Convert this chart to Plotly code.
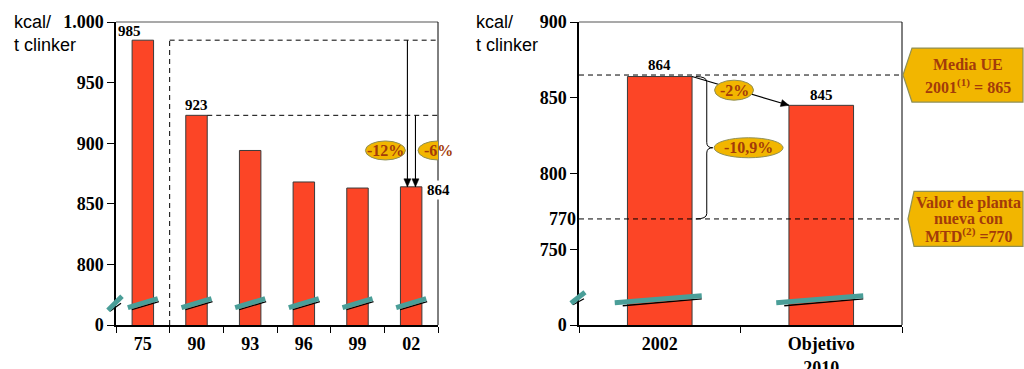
import math
import plotly.graph_objects as go

# Consumo térmico histórico (kcal / t clinker)
years = ["75", "90", "93", "96", "99", "02"]
consumo = [985, 923, 894, 868, 863, 864]

# Situación actual frente al objetivo
periodos = ["2002", "Objetivo<br>2010"]
objetivo = [864, 845]

# Valores de referencia
media_ue = 865
valor_mtd = 770

# Etiquetas de variación porcentual
pct_hist = ["-12%", "-6%"]
pct_obj = ["-2%", "-10,9%"]

# Marcas de eje y rótulos
left_ticks = [750, 800, 850, 900, 950, 1000]
left_ticktext = ["0", "800", "850", "900", "950", "1.000"]
right_ticks = [700, 750, 800, 850, 900]
right_ticktext = ["0", "750", "800", "850", "900"]

BAR = "#FC4526"
TEAL = "#4A9E98"
GOLD = "#F2B600"
GOLD_LINE = "#8F8F55"
BROWN = "#A33B0A"
SERIF = "Liberation Serif"
SANS = "Liberation Sans"

W, H = 1024, 369
LX = [116 / W, 438 / W]
RX = [579 / W, 902 / W]
YD = [44 / H, 347 / H]

fig = go.Figure()
fig.add_trace(go.Bar(x=years, y=consumo, xaxis="x", yaxis="y", width=0.4,
                     marker=dict(color=BAR, line=dict(color="#3a3a3a", width=1)),
                     hoverinfo="skip"))
fig.add_trace(go.Bar(x=periodos, y=objetivo, xaxis="x2", yaxis="y2", width=0.4,
                     marker=dict(color=BAR, line=dict(color="#3a3a3a", width=1)),
                     hoverinfo="skip"))

tick_font = dict(family=SERIF, size=18, color="black", weight="bold")


def xaxis(domain, anchor, n):
    return dict(domain=domain, anchor=anchor, type="category", range=[-0.5, n - 0.5],
                tickson="boundaries", ticks="outside", ticklen=6, tickcolor="black",
                tickwidth=1, showline=True, linecolor="black", linewidth=1.5,
                showgrid=False, zeroline=False, tickfont=tick_font, fixedrange=True,
                automargin=False, ticklabelstandoff=2)


def yaxis(domain, anchor, rng, vals, text):
    return dict(domain=domain, anchor=anchor, range=rng, tickvals=vals, ticktext=text,
                ticks="outside", ticklen=7, tickcolor="black", tickwidth=1,
                showline=True, linecolor="black", linewidth=1.5, showgrid=False,
                zeroline=False, tickfont=tick_font, fixedrange=True, automargin=False)


shapes = []
annotations = []


def line(xref, yref, x0, y0, x1, y1, color="black", width=1, dash=None, **kw):
    d = dict(type="line", xref=xref, yref=yref, x0=x0, y0=y0, x1=x1, y1=y1,
             line=dict(color=color, width=width, dash=dash), layer="above")
    d.update(kw)
    shapes.append(d)


# Marcos superior y derecho
for xd, yd in (("x domain", "y domain"), ("x2 domain", "y2 domain")):
    line(xd, yd, 0, 1, 1, 1, color="#8c8c8c", width=1.5)
    line(xd, yd, 1, 0, 1, 1, color="black", width=1)

DASH = "5px,4px"
base_left = left_ticks[0]
n_left = len(years)
last = n_left - 1

# Líneas de referencia del gráfico histórico
line("x", "y", 0.5, consumo[0], n_left - 0.5, consumo[0], dash=DASH)
line("x", "y", 0.5, base_left, 0.5, consumo[0], dash=DASH)
line("x", "y", 1.2, consumo[1], n_left - 0.5, consumo[1], dash=DASH)

# Líneas de referencia del gráfico de objetivos
line("x2", "y2", -0.5, media_ue, len(periodos) - 0.5, media_ue, dash=DASH)
line("x2", "y2", -0.5, valor_mtd, len(periodos) - 0.5, valor_mtd, dash=DASH)


def break_mark(xref, yref, xa, ya, teal, black):
    (tx0, ty0, tx1, ty1) = teal
    (bx0, by0, bx1, by1) = black
    common = dict(xsizemode="pixel", ysizemode="pixel", xanchor=xa, yanchor=ya)
    line(xref, yref, bx0, by0, bx1, by1, color="black", width=1.3, **common)
    line(xref, yref, tx0, ty0, tx1, ty1, color=TEAL, width=5, **common)


# Cortes de eje
for i in range(n_left):
    break_mark("x", "y", i, 768, (-15, -4.5, 15, 4.5), (-11, -6.5, 16, 1.6))
break_mark("x domain", "y", 0, 768, (-8, -7, 6, 7), (-6, -8, 5, 0))
for i in range(len(periodos)):
    break_mark("x2", "y2", i, 717, (-45, -3.5, 42, 3.5), (-37, -6.5, 42, 0.3))
break_mark("x2 domain", "y2", 0, 718, (-8, -5.5, 6, 5.5), (-6, -7, 5, -1))

# Llave entre 864 y 770
top, bot = objetivo[0], valor_mtd
mid = (top + bot) / 2
d = 3.5
brace = (f"M 36,{top} Q 47,{top} 47,{top - d} L 47,{mid + d} "
         f"Q 47,{mid} 53,{mid} Q 47,{mid} 47,{mid - d} "
         f"L 47,{bot + d} Q 47,{bot} 36,{bot}")
shapes.append(dict(type="path", xref="x2", yref="y2", xsizemode="pixel", xanchor=0,
                   path=brace, line=dict(color="black", width=1), layer="above"))


def ellipse(xref, yref, x, y, w, h, text):
    shapes.append(dict(type="circle", xref=xref, yref=yref, xsizemode="pixel",
                       ysizemode="pixel", xanchor=x, yanchor=y, x0=-w / 2, x1=w / 2,
                       y0=-h / 2, y1=h / 2, fillcolor=GOLD,
                       line=dict(color=GOLD_LINE, width=1), layer="above"))
    annotations.append(dict(xref=xref, yref=yref, x=x, y=y, text=text, showarrow=False,
                            xanchor="center",
                            font=dict(family=SERIF, size=16, color=BROWN, weight="bold")))


# Escalas en píxeles de cada panel (para orientar las puntas de flecha)
def px_scale(dom_x, n_cat, ticks):
    sx = (dom_x[1] - dom_x[0]) * W / n_cat
    sy = (YD[1] - YD[0]) * H / (ticks[-1] - ticks[0])
    return sx, sy


def arrow(xref, yref, x0, y0, x1, y1, scale):
    line(xref, yref, x0, y0, x1, y1, width=1.1)
    sx, sy = scale
    dx, dy = (x1 - x0) * sx, (y1 - y0) * sy
    n = math.hypot(dx, dy)
    ux, uy = dx / n, dy / n
    L, hw = 8, 3.5
    bx, by = -L * ux, -L * uy
    px, py = -uy * hw, ux * hw
    p = (f"M 0,0 L {bx + px:.2f},{by + py:.2f} L {bx - px:.2f},{by - py:.2f} Z")
    shapes.append(dict(type="path", xref=xref, yref=yref, xsizemode="pixel",
                       ysizemode="pixel", xanchor=x1, yanchor=y1, path=p,
                       fillcolor="black", line=dict(color="black", width=0.5),
                       layer="above"))


sc_left = px_scale(LX, n_left, left_ticks)
sc_right = px_scale(RX, len(periodos), right_ticks)

# Flechas de reducción
arrow("x", "y", last - 0.07, consumo[0], last - 0.07, consumo[last], sc_left)
arrow("x", "y", last + 0.08, consumo[1], last + 0.08, consumo[last], sc_left)
arrow("x2", "y2", 0.2, objetivo[0], 0.8, objetivo[1], sc_right)

ellipse("x", "y", 4.52, 894, 40, 19, pct_hist[0])
ellipse("x", "y", 5.5, 894, 40, 19, pct_hist[1])
ellipse("x2", "y2", 0.46, 855, 39, 20, pct_obj[0])
ellipse("x2", "y2", 0.55, mid, 69, 20, pct_obj[1])

val_font = dict(family=SERIF, size=15, color="black", weight="bold")
annotations += [
    dict(xref="x", yref="y", x=0, y=consumo[0], text=str(consumo[0]), xshift=-13,
         yanchor="bottom", yshift=-1, showarrow=False, font=val_font),
    dict(xref="x", yref="y", x=1, y=consumo[1], text=str(consumo[1]), yanchor="bottom",
         showarrow=False, font=val_font),
    dict(xref="x", yref="y", x=last + 0.2, y=consumo[last], text=str(consumo[last]),
         xanchor="left", xshift=3, yshift=-3, showarrow=False, font=val_font,
         bgcolor="white", borderpad=1),
    dict(xref="x2", yref="y2", x=0, y=objetivo[0], text=str(objetivo[0]),
         yanchor="bottom", yshift=2, showarrow=False, font=val_font),
    dict(xref="x2", yref="y2", x=1, y=objetivo[1], text=str(objetivo[1]),
         yanchor="bottom", yshift=0, showarrow=False, font=val_font),
    dict(xref="paper", yref="y2", x=RX[0], y=valor_mtd, text=str(valor_mtd),
         xanchor="right", xshift=-1, showarrow=False, font=tick_font),
]

# Títulos de unidades
unit_font = dict(family=SANS, size=18, color="black")
for x in (12 / W, 474 / W):
    annotations.append(dict(xref="paper", yref="paper", x=x, y=1 - 10 / H,
                            xanchor="left", yanchor="top", align="left",
                            text="kcal/<br>t clinker", showarrow=False, font=unit_font))


# Recuadros de referencia con punta hacia la izquierda
def tag(yval, tip, notch, half, lines, spacing):
    right = 1023 / W
    p = (f"M {tip},0 L {notch},{half} L {right},{half} L {right},{-half} "
         f"L {notch},{-half} Z")
    shapes.append(dict(type="path", xref="paper", yref="y2", ysizemode="pixel",
                       yanchor=yval, path=p, fillcolor=GOLD,
                       line=dict(color=GOLD_LINE, width=1.2), layer="above"))
    cx = (notch + right) / 2
    n = len(lines)
    for k, t in enumerate(lines):
        annotations.append(dict(xref="paper", yref="y2", x=cx, y=yval, text=t,
                                xanchor="center", yanchor="middle",
                                yshift=((n - 1) / 2 - k) * spacing, showarrow=False,
                                font=dict(family=SERIF, size=16, color=BROWN,
                                          weight="bold")))


tag(media_ue, 903 / W, 912 / W, 27,
    ["Media UE", f"2001<sup>(1)</sup> = {media_ue}"], 22)
tag(valor_mtd, 908 / W, 914 / W, 27.5,
    ["Valor de planta", "nueva con", f"MTD<sup>(2)</sup> ={valor_mtd}"], 16)

fig.update_layout(
    width=W, height=H, autosize=False,
    margin=dict(l=0, r=0, t=0, b=0),
    paper_bgcolor="white", plot_bgcolor="white",
    showlegend=False, bargap=0.6,
    xaxis=xaxis(LX, "y", n_left),
    yaxis=yaxis(YD, "x", [left_ticks[0], left_ticks[-1]], left_ticks, left_ticktext),
    xaxis2=xaxis(RX, "y2", len(periodos)),
    yaxis2=yaxis(YD, "x2", [right_ticks[0], right_ticks[-1]], right_ticks, right_ticktext),
    shapes=shapes,
    annotations=annotations,
)

fig.write_html("out.html")
